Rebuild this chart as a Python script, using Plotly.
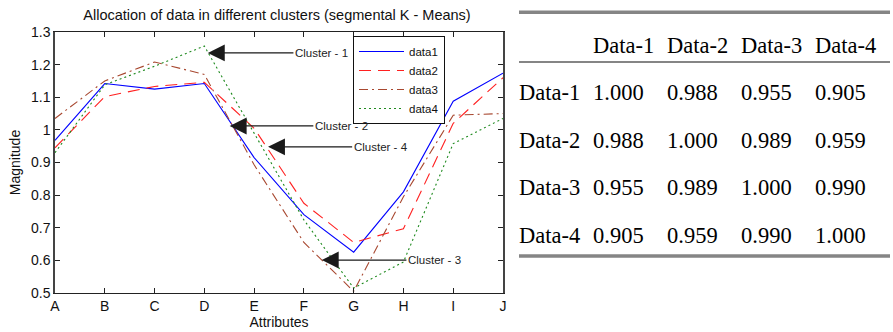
import plotly.graph_objects as go

# ---- data ----
attributes = ["A", "B", "C", "D", "E", "F", "G", "H", "I", "J"]
data1 = [0.968, 1.142, 1.125, 1.142, 0.915, 0.740, 0.625, 0.810, 1.088, 1.174]
data2 = [0.945, 1.102, 1.133, 1.146, 1.005, 0.775, 0.655, 0.697, 1.020, 1.160]
data3 = [1.035, 1.150, 1.208, 1.170, 0.893, 0.655, 0.505, 0.795, 1.045, 1.050]
data4 = [0.930, 1.138, 1.195, 1.257, 0.990, 0.724, 0.515, 0.595, 0.958, 1.035]
series_names = ["data1", "data2", "data3", "data4"]

y_tickvals = [0.5, 0.6, 0.7, 0.8, 0.9, 1.0, 1.1, 1.2, 1.3]
y_ticktext = ["0.5", "0.6", "0.7", "0.8", "0.9", "1", "1.1", "1.2", "1.3"]

cluster_labels = ["Cluster - 1", "Cluster - 2", "Cluster - 4", "Cluster - 3"]
cluster_head_x = [3.07, 3.51, 4.28, 5.36]
cluster_head_y = [1.236, 1.012, 0.948, 0.601]
cluster_text_x = [4.82, 5.22, 6.00, 7.09]

table_cols = ["Data-1", "Data-2", "Data-3", "Data-4"]
table_rows = ["Data-1", "Data-2", "Data-3", "Data-4"]
table_vals = [
    [1.000, 0.988, 0.955, 0.905],
    [0.988, 1.000, 0.989, 0.959],
    [0.955, 0.989, 1.000, 0.990],
    [0.905, 0.959, 0.990, 1.000],
]

# ---- styles ----
W, H = 893, 332
sans = "Liberation Sans, Arial, sans-serif"
serif = "Liberation Serif, Times New Roman, serif"
styles = [
    dict(color="#0000FF", dash="solid"),
    dict(color="#FF2020", dash="12px,7px"),
    dict(color="#A84830", dash="9px,4px,2px,4px"),
    dict(color="#1E8A1E", dash="2px,3px"),
]

fig = go.Figure()
xs = list(range(len(attributes)))
for name, vals, st in zip(series_names, [data1, data2, data3, data4], styles):
    fig.add_trace(go.Scatter(
        x=xs, y=vals, mode="lines", name=name,
        line=dict(color=st["color"], dash=st["dash"], width=1.1),
        xaxis="x", yaxis="y",
    ))

# table text trace
tx, ty, tt = [], [], []
for j, c in enumerate(table_cols):
    tx.append(j + 1); ty.append(0); tt.append(c)
for i, r in enumerate(table_rows):
    tx.append(0); ty.append(i + 1); tt.append(r)
    for j, v in enumerate(table_vals[i]):
        tx.append(j + 1); ty.append(i + 1); tt.append(f"{v:.3f}")
fig.add_trace(go.Scatter(
    x=tx, y=ty, text=tt, mode="text", textposition="middle right",
    textfont=dict(family=serif, size=22.5, color="black"),
    xaxis="x2", yaxis="y2", showlegend=False, hoverinfo="skip",
))

# plot area geometry
px_l, px_r, px_t, px_b = 55, 503, 32, 293
annotations = []
for lab, hx, hy, txx in zip(cluster_labels, cluster_head_x, cluster_head_y, cluster_text_x):
    annotations.append(dict(
        x=hx, y=hy, ax=txx, ay=hy, xref="x", yref="y", axref="x", ayref="y",
        text="", showarrow=True, arrowhead=2, arrowsize=2.6, arrowwidth=1.3,
        arrowcolor="#1a1a1a",
    ))
    annotations.append(dict(
        x=txx, y=hy, xref="x", yref="y", text=lab, showarrow=False,
        xanchor="left", yanchor="middle", xshift=-2,
        font=dict(family=sans, size=11.5, color="#222222"),
    ))

# table rules
tbl_x0, tbl_x1 = 519, 890
rule_y = [-0.73, 0.316, 4.40]
rule_w = [3.5, 2.2, 3.5]
shapes = []
for ry, rw in zip(rule_y, rule_w):
    shapes.append(dict(type="line", xref="paper", yref="y2",
                       x0=tbl_x0 / W, x1=tbl_x1 / W, y0=ry, y1=ry,
                       line=dict(color="#858585", width=rw)))

fig.update_layout(
    width=W, height=H,
    margin=dict(l=0, r=0, t=0, b=0),
    paper_bgcolor="white", plot_bgcolor="white",
    font=dict(family=sans, size=14, color="#111111"),
    title=dict(text="Allocation of data in different clusters (segmental K - Means)",
               x=277 / W, y=1 - 15 / H, xanchor="center", yanchor="middle",
               font=dict(family=sans, size=14.5, color="#111111")),
    xaxis=dict(domain=[px_l / W, px_r / W], range=[0, 9],
               tickvals=xs, ticktext=attributes,
               ticks="inside", ticklen=5, tickcolor="#222", mirror="ticks",
               showline=True, linecolor="#222", linewidth=1.2,
               showgrid=False, zeroline=False, automargin=False,
               tickfont=dict(size=14),
               title=dict(text="Attributes", standoff=4, font=dict(size=14))),
    yaxis=dict(domain=[1 - px_b / H, 1 - px_t / H], range=[0.5, 1.3],
               tickvals=y_tickvals, ticktext=y_ticktext,
               ticks="inside", ticklen=5, tickcolor="#222", mirror="ticks",
               showline=True, linecolor="#444", linewidth=1.5,
               showgrid=False, zeroline=False, automargin=False,
               tickfont=dict(size=14),
               title=dict(text="Magnitude", standoff=7, font=dict(size=14))),
    xaxis2=dict(domain=[tbl_x0 / W, tbl_x1 / W], range=[0, (tbl_x1 - tbl_x0) / 74],
                visible=False, fixedrange=True),
    yaxis2=dict(domain=[0, 1], range=[(H - 47) / 47.5, -47 / 47.5],
                visible=False, fixedrange=True),
    legend=dict(x=353 / W, y=1 - 36 / H, xanchor="left", yanchor="top",
                bgcolor="white", bordercolor="#111", borderwidth=1,
                font=dict(family=sans, size=11.5, color="#111"),
                itemwidth=45, tracegroupgap=0),
    showlegend=True,
    annotations=annotations,
    shapes=shapes,
)

fig.write_html("out.html")
